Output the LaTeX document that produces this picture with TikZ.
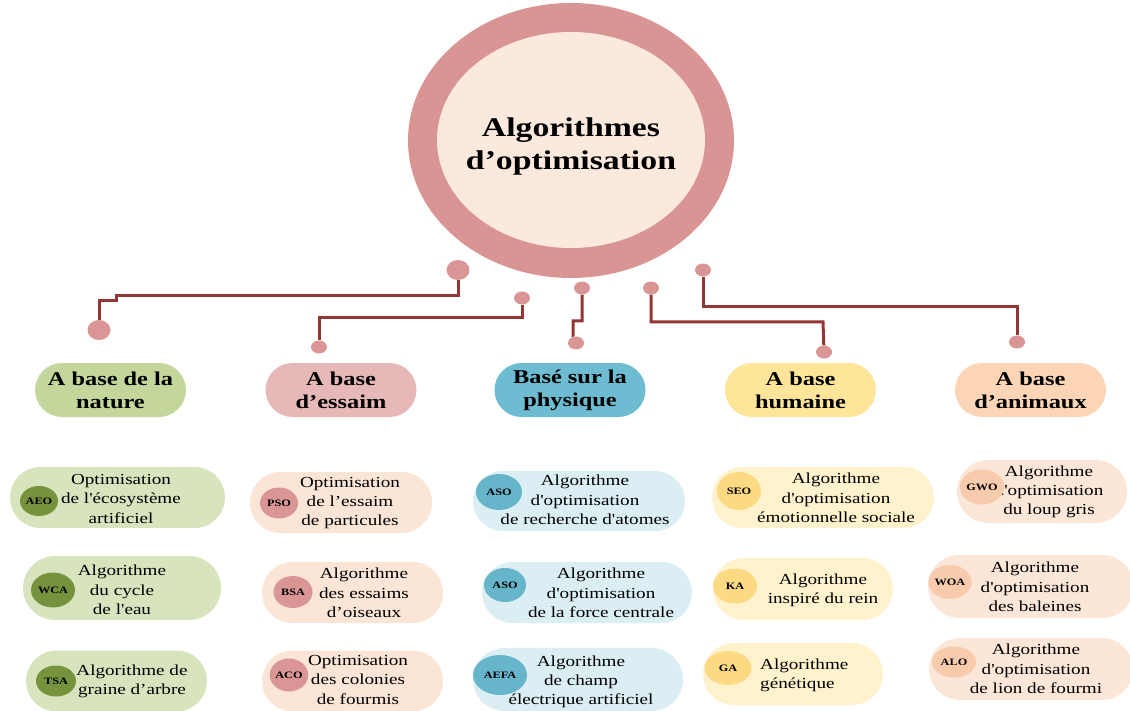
\documentclass[tikz,border=0pt]{standalone}
\usepackage{fontspec}
\setmainfont{Liberation Serif}[FakeStretch=1.25,Ligatures=TeXOff]
\usetikzlibrary{shapes.geometric,shapes.misc}

% palette
\definecolor{ringc}{HTML}{D99594}
\definecolor{innerc}{HTML}{FBE9DD}
\definecolor{connc}{HTML}{943634}
\definecolor{dotc}{HTML}{D99694}
\definecolor{natcat}{HTML}{C3D69B}
\definecolor{natitem}{HTML}{D7E4BD}
\definecolor{nattag}{HTML}{76923C}
\definecolor{esscat}{HTML}{E6B9B8}
\definecolor{essitem}{HTML}{FBE5D6}
\definecolor{esstag}{HTML}{D99694}
\definecolor{phycat}{HTML}{6DBCD1}
\definecolor{phyitem}{HTML}{DAEEF3}
\definecolor{phytag}{HTML}{67B5CA}
\definecolor{humcat}{HTML}{FFE599}
\definecolor{humitem}{HTML}{FFF2CC}
\definecolor{humtag}{HTML}{FCD983}
\definecolor{anicat}{HTML}{FBD5B5}
\definecolor{aniitem}{HTML}{FBE6D8}
\definecolor{anitag}{HTML}{F8CBAD}

\tikzset{
  conn/.style={draw=connc, line width=3pt},
  dot/.style={ellipse, fill=dotc, inner sep=0pt},
  cat/.style={rounded rectangle, minimum width=151, minimum height=54,
    inner sep=0pt, align=center, font=\fontsize{19.5}{23}\selectfont\bfseries},
  pill/.style={rounded rectangle, inner sep=0pt},
  itxt/.style={align=center, inner sep=0pt, font=\fontsize{15.3}{19.3}\selectfont},
  tag/.style={ellipse, inner sep=0pt, minimum width=40, minimum height=33,
    font=\fontsize{9.8}{11}\selectfont\bfseries},
}

\begin{document}
\begin{tikzpicture}[x=1pt,y=-1pt]
\useasboundingbox (0,0) rectangle (1130,711);

% central ring
\node[ellipse, fill=ringc, minimum width=326, minimum height=275, inner sep=0pt] (root) at (571,140.5) {};
\node[ellipse, fill=innerc, minimum width=268, minimum height=216, inner sep=0pt] (hub) at (571,140) {};
\node[align=center, inner sep=0pt, font=\fontsize{27}{33}\selectfont\bfseries] (title) at (571,147)
  {Algorithmes\\d’optimisation};

% connector end dots
\node[dot, minimum width=23, minimum height=20] (d1a) at (458,270) {};
\node[dot, minimum width=23, minimum height=20] (d1b) at (99,330) {};
\node[dot, minimum width=16, minimum height=13] (d2a) at (522,298) {};
\node[dot, minimum width=16, minimum height=13] (d2b) at (319,347) {};
\node[dot, minimum width=16, minimum height=13] (d3a) at (582,288) {};
\node[dot, minimum width=16, minimum height=13] (d3b) at (576,343) {};
\node[dot, minimum width=16, minimum height=13] (d4a) at (651,288) {};
\node[dot, minimum width=16, minimum height=13] (d4b) at (824,352) {};
\node[dot, minimum width=16, minimum height=13] (d5a) at (703,270) {};
\node[dot, minimum width=16, minimum height=13] (d5b) at (1017,342) {};

% connectors
\draw[conn] (d1a) -- (d1a |- 0,296) -- (116,296) -- (116,301) -- (d1b |- 0,301) -- (d1b);
\draw[conn] (d2a) -- (d2a |- 0,318) -- (d2b |- 0,318) -- (d2b);
\draw[conn] (d3a) -- (d3a |- 0,321) -- (573,321) -- (573,336) -- (d3b);
\draw[conn] (d4a) -- (d4a |- 0,322) -- (823,322) -- (d4b);
\draw[conn] (d5a) -- (d5a |- 0,307) -- (d5b |- 0,307) -- (d5b);

% categories
\node[cat, fill=natcat] (cnat) at (110.5,390) {A base de la\\nature};
\node[cat, fill=esscat] (cess) at (341,390) {A base\\d’essaim};
\node[cat, fill=phycat] (cphy) at (570,390) {Basé sur la\\physique};
\node[cat, fill=humcat] (chum) at (800.5,390) {A base\\humaine};
\node[cat, fill=anicat] (cani) at (1030.5,390) {A base\\d’animaux};

% nature-inspired methods
\node[pill, fill=natitem, minimum width=215, minimum height=61] (n1) at (117.5,497.5) {};
\node[itxt] (n1t) at (121,499) {Optimisation\\de l'écosystème\\artificiel};
\node[tag, fill=nattag, minimum width=38, minimum height=30] (n1c) at (39,501) {AEO};
\node[pill, fill=natitem, minimum width=198, minimum height=64] (n2) at (122,588) {};
\node[itxt] (n2t) at (122,590) {Algorithme\\du cycle\\de l'eau};
\node[tag, fill=nattag, minimum width=44, minimum height=35] (n2c) at (53,590) {WCA};
\node[pill, fill=natitem, minimum width=181, minimum height=61] (n3) at (116.5,681) {};
\node[itxt] (n3t) at (132,681) {Algorithme de\\graine d’arbre};
\node[tag, fill=nattag, minimum width=40, minimum height=31] (n3c) at (56,681) {TSA};

% swarm-based methods
\node[pill, fill=essitem, minimum width=182, minimum height=61] (s1) at (341,502.5) {};
\node[itxt] (s1t) at (350,503) {Optimisation\\de l’essaim\\de particules};
\node[tag, fill=esstag, minimum width=38, minimum height=31] (s1c) at (279,503) {PSO};
\node[pill, fill=essitem, minimum width=181, minimum height=61] (s2) at (352.5,592.5) {};
\node[itxt] (s2t) at (364,593) {Algorithme\\des essaims\\d’oiseaux};
\node[tag, fill=esstag, minimum width=39, minimum height=32] (s2c) at (293,592) {BSA};
\node[pill, fill=essitem, minimum width=181, minimum height=61] (s3) at (352.5,681) {};
\node[itxt] (s3t) at (358,680) {Optimisation\\des colonies\\de fourmis};
\node[tag, fill=esstag, minimum width=38, minimum height=33] (s3c) at (289,675) {ACO};

% physics-based methods
\node[pill, fill=phyitem, minimum width=212, minimum height=60] (p1) at (579,501) {};
\node[itxt] (p1t) at (585,500) {Algorithme\\d'optimisation\\de recherche d'atomes};
\node[tag, fill=phytag, minimum width=46, minimum height=36] (p1c) at (499,492) {ASO};
\node[pill, fill=phyitem, minimum width=210, minimum height=61] (p2) at (587,592.5) {};
\node[itxt] (p2t) at (601,593) {Algorithme\\d'optimisation\\de la force centrale};
\node[tag, fill=phytag, minimum width=42, minimum height=34] (p2c) at (505,585) {ASO};
\node[pill, fill=phyitem, minimum width=210, minimum height=63] (p3) at (578,679.5) {};
\node[itxt] (p3t) at (581,682) {Algorithme\\de champ\\électrique artificiel};
\node[tag, fill=phytag, minimum width=54, minimum height=40] (p3c) at (500,675) {AEFA};

% human-based methods
\node[pill, fill=humitem, minimum width=222, minimum height=61] (h1) at (823,497.5) {};
\node[itxt] (h1t) at (836,498) {Algorithme\\d'optimisation\\émotionnelle sociale};
\node[tag, fill=humtag, minimum width=44, minimum height=38] (h1c) at (739,491) {SEO};
\node[pill, fill=humitem, minimum width=180, minimum height=62] (h2) at (803,589) {};
\node[itxt] (h2t) at (823,590) {Algorithme\\inspiré du rein};
\node[tag, fill=humtag, minimum width=44, minimum height=35] (h2c) at (735,586) {KA};
\node[pill, fill=humitem, minimum width=180, minimum height=62] (h3) at (793,674) {};
\node[itxt, align=left, anchor=west] (h3t) at (760,675) {Algorithme\\génétique};
\node[tag, fill=humtag, minimum width=47, minimum height=34] (h3c) at (728,668) {GA};

% animal-based methods
\node[pill, fill=aniitem, minimum width=170, minimum height=63] (a1) at (1042,491.5) {};
\node[itxt] (a1t) at (1049,492) {Algorithme\\d'optimisation\\du loup gris};
\node[tag, fill=anitag, minimum width=40, minimum height=35] (a1c) at (982,487) {GWO};
\node[pill, fill=aniitem, minimum width=206, minimum height=63] (a2) at (1031,586.5) {};
\node[itxt] (a2t) at (1035,587) {Algorithme\\d'optimisation\\des baleines};
\node[tag, fill=anitag, minimum width=42, minimum height=34] (a2c) at (950,582) {WOA};
\node[pill, fill=aniitem, minimum width=204, minimum height=62] (a3) at (1031,669) {};
\node[itxt] (a3t) at (1036,669) {Algorithme\\d'optimisation\\de lion de fourmi};
\node[tag, fill=anitag, minimum width=44, minimum height=31] (a3c) at (954,662) {ALO};
\end{tikzpicture}
\end{document}
